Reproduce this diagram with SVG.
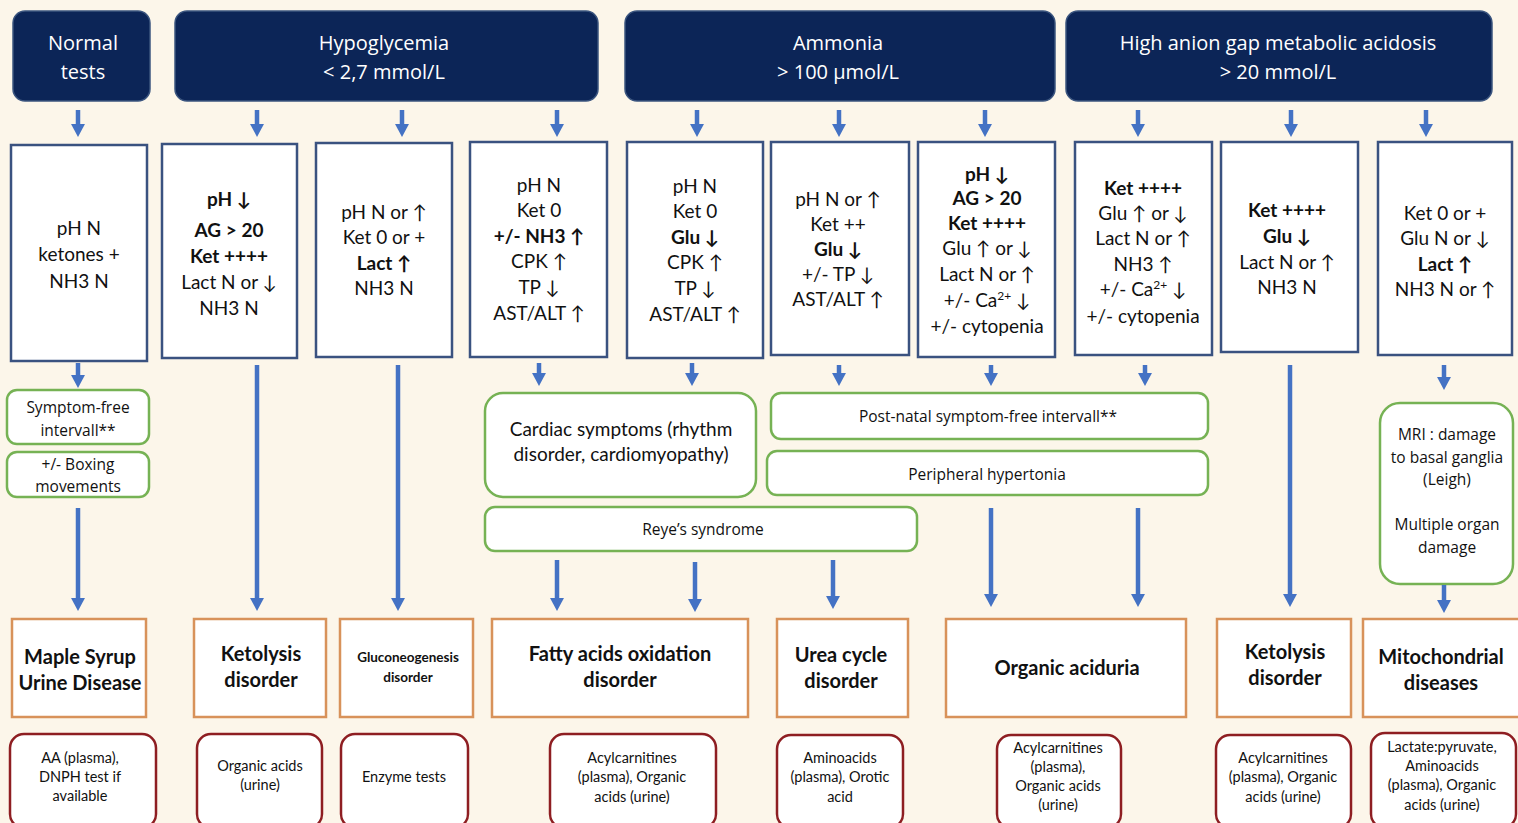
<svg xmlns="http://www.w3.org/2000/svg" width="1518" height="823" viewBox="0 0 1518 823">
<defs>
<style>
.bg{fill:#FCF6EA}
.hdr rect{fill:#0C2557;stroke:#3B557F;stroke-width:1.5}
.hdr text{fill:#FFFFFF;font-family:"Open Sans","DejaVu Sans",sans-serif;font-size:20px;text-anchor:middle}
.lab rect{fill:#FFFFFF;stroke:#3A5280;stroke-width:2.5}
.lab text{fill:#111111;font-family:Lato,"Liberation Sans","DejaVu Sans",sans-serif;font-size:19px;text-anchor:middle}
.b{font-weight:bold}
.sym rect{fill:#FFFFFF;stroke:#76B254;stroke-width:2.5}
.sym text{fill:#111111;font-family:"Open Sans","DejaVu Sans",sans-serif;font-size:15.5px;text-anchor:middle}
.dis rect{fill:#FFFFFF;stroke:#D8925A;stroke-width:2.5}
.dis text{fill:#111111;font-family:Lato,"Liberation Sans",sans-serif;font-size:20px;font-weight:bold;text-anchor:middle}
.tst rect{fill:#FFFFFF;stroke:#8E1E22;stroke-width:2.5}
.tst text{fill:#111111;font-family:Lato,"Liberation Sans",sans-serif;font-size:14.5px;text-anchor:middle}
.conn path{stroke:#4472C4;fill:none;stroke-width:4.5;marker-end:url(#ah)}
.sup{font-size:12px}
</style>
<marker id="ah" markerUnits="userSpaceOnUse" viewBox="0 0 12 12" markerWidth="13" markerHeight="14" refX="1" refY="6" orient="auto" preserveAspectRatio="none">
<path d="M0,0 L12,6 L0,12 z" fill="#4472C4"/>
</marker>
</defs>
<rect class="bg" x="0" y="0" width="1518" height="823"/>

<!-- Headers -->
<g id="h-normal" class="hdr"><rect x="13" y="11" width="137" height="90" rx="12"/><text x="83" y="50">Normal</text><text x="83" y="79">tests</text></g>
<g id="h-hypo" class="hdr"><rect x="175" y="11" width="423" height="90" rx="12"/><text x="384" y="50">Hypoglycemia</text><text x="384" y="79">&lt; 2,7 mmol/L</text></g>
<g id="h-ammonia" class="hdr"><rect x="625" y="11" width="430" height="90" rx="12"/><text x="838" y="50">Ammonia</text><text x="838" y="79">&gt; 100 µmol/L</text></g>
<g id="h-agap" class="hdr"><rect x="1066" y="11" width="426" height="90" rx="12"/><text x="1278" y="50">High anion gap metabolic acidosis</text><text x="1278" y="79">&gt; 20 mmol/L</text></g>

<!-- Lab profile boxes -->
<g id="p1" class="lab"><rect x="11" y="145" width="136" height="216"/>
<text x="79" y="235" fill="#333">pH N</text><text x="79" y="261">ketones +</text><text x="79" y="288" fill="#333">NH3 N</text></g>
<g id="p2" class="lab"><rect x="162" y="144" width="135" height="214"/>
<text x="229" y="206" class="b">pH ↓</text><text x="229" y="237" class="b">AG &gt; 20</text><text x="229" y="263" class="b">Ket ++++</text><text x="229" y="289">Lact N or ↓</text><text x="229" y="315">NH3 N</text></g>
<g id="p3" class="lab"><rect x="316" y="143" width="136" height="214"/>
<text x="384" y="219">pH N or ↑</text><text x="384" y="244">Ket 0 or +</text><text x="384" y="270" class="b">Lact ↑</text><text x="384" y="295">NH3 N</text></g>
<g id="p4" class="lab"><rect x="470" y="142" width="137" height="215"/>
<text x="539" y="192">pH N</text><text x="539" y="217">Ket 0</text><text x="539" y="243" class="b">+/- NH3 ↑</text><text x="539" y="268">CPK ↑</text><text x="539" y="294">TP ↓</text><text x="539" y="320">AST/ALT ↑</text></g>
<g id="p5" class="lab"><rect x="627" y="142" width="136" height="216"/>
<text x="695" y="193">pH N</text><text x="695" y="218">Ket 0</text><text x="695" y="244" class="b">Glu ↓</text><text x="695" y="269">CPK ↑</text><text x="695" y="295">TP ↓</text><text x="695" y="321">AST/ALT ↑</text></g>
<g id="p6" class="lab"><rect x="771" y="142" width="138" height="213"/>
<text x="838" y="206">pH N or ↑</text><text x="838" y="231">Ket ++</text><text x="838" y="256" class="b">Glu ↓</text><text x="838" y="281">+/- TP ↓</text><text x="838" y="306">AST/ALT ↑</text></g>
<g id="p7" class="lab"><rect x="918" y="142" width="137" height="215"/>
<text x="987" y="181" class="b">pH ↓</text><text x="987" y="205" class="b">AG &gt; 20</text><text x="987" y="230" class="b">Ket ++++</text><text x="987" y="255">Glu ↑ or ↓</text><text x="987" y="281">Lact N or ↑</text><text x="987" y="307">+/- Ca<tspan class="sup" dy="-7">2+</tspan><tspan dy="7"> ↓</tspan></text><text x="987" y="333">+/- cytopenia</text></g>
<g id="p8" class="lab"><rect x="1075" y="142" width="137" height="213"/>
<text x="1143" y="195" class="b">Ket ++++</text><text x="1143" y="220">Glu ↑ or ↓</text><text x="1143" y="245">Lact N or ↑</text><text x="1143" y="271">NH3 ↑</text><text x="1143" y="296">+/- Ca<tspan class="sup" dy="-7">2+</tspan><tspan dy="7"> ↓</tspan></text><text x="1143" y="323">+/- cytopenia</text></g>
<g id="p9" class="lab"><rect x="1221" y="142" width="137" height="210"/>
<text x="1287" y="217" class="b">Ket ++++</text><text x="1287" y="243" class="b">Glu ↓</text><text x="1287" y="269">Lact N or ↑</text><text x="1287" y="294">NH3 N</text></g>
<g id="p10" class="lab"><rect x="1378" y="142" width="134" height="213"/>
<text x="1445" y="220">Ket 0 or +</text><text x="1445" y="245">Glu N or ↓</text><text x="1445" y="271" class="b">Lact ↑</text><text x="1445" y="296">NH3 N or ↑</text></g>

<!-- Symptom boxes -->
<g id="s-free" class="sym"><rect x="7" y="390" width="142" height="54" rx="10"/><text x="78" y="413">Symptom-free</text><text x="78" y="436">intervall**</text></g>
<g id="s-boxing" class="sym"><rect x="7" y="452" width="142" height="45" rx="10"/><text x="78" y="470">+/- Boxing</text><text x="78" y="492">movements</text></g>
<g id="s-cardiac" class="sym"><rect x="485" y="393" width="271" height="104" rx="18"/><text x="621" y="436" style="font-family:Lato,'Liberation Sans',sans-serif;font-size:19px">Cardiac symptoms (rhythm</text><text x="621" y="461" style="font-family:Lato,'Liberation Sans',sans-serif;font-size:19px">disorder, cardiomyopathy)</text></g>
<g id="s-postnatal" class="sym"><rect x="771" y="393" width="437" height="46" rx="10"/><text x="988" y="422">Post-natal symptom-free intervall**</text></g>
<g id="s-hypertonia" class="sym"><rect x="767" y="451" width="441" height="44" rx="10"/><text x="987" y="480">Peripheral hypertonia</text></g>
<g id="s-reye" class="sym"><rect x="485" y="507" width="432" height="44" rx="10"/><text x="703" y="535">Reye’s syndrome</text></g>
<g id="s-mri" class="sym"><rect x="1380" y="403" width="133" height="181" rx="20"/><text x="1447" y="440">MRI : damage</text><text x="1447" y="463">to basal ganglia</text><text x="1447" y="485">(Leigh)</text><text x="1447" y="530">Multiple organ</text><text x="1447" y="553">damage</text></g>

<!-- Disease boxes -->
<g id="d-msud" class="dis"><rect x="12" y="619" width="134" height="98"/><text x="80" y="664">Maple Syrup</text><text x="80" y="690">Urine Disease</text></g>
<g id="d-keto1" class="dis"><rect x="194" y="619" width="132" height="98"/><text x="261" y="661">Ketolysis</text><text x="261" y="687">disorder</text></g>
<g id="d-gluco" class="dis"><rect x="340" y="619" width="133" height="98"/><text x="408" y="662" style="font-size:13.5px">Gluconeogenesis</text><text x="408" y="682" style="font-size:13.5px">disorder</text></g>
<g id="d-fao" class="dis"><rect x="492" y="619" width="256" height="98"/><text x="620" y="661">Fatty acids oxidation</text><text x="620" y="687">disorder</text></g>
<g id="d-urea" class="dis"><rect x="777" y="619" width="131" height="98"/><text x="841" y="662">Urea cycle</text><text x="841" y="688">disorder</text></g>
<g id="d-oa" class="dis"><rect x="946" y="619" width="240" height="98"/><text x="1067" y="675">Organic aciduria</text></g>
<g id="d-keto2" class="dis"><rect x="1217" y="619" width="134" height="98"/><text x="1285" y="659">Ketolysis</text><text x="1285" y="685">disorder</text></g>
<g id="d-mito" class="dis"><rect x="1363" y="619" width="160" height="98"/><text x="1441" y="664">Mitochondrial</text><text x="1441" y="690">diseases</text></g>

<!-- Test boxes -->
<g id="t-msud" class="tst"><rect x="10" y="734" width="146" height="94" rx="14"/><text x="80" y="763">AA (plasma),</text><text x="80" y="782">DNPH test if</text><text x="80" y="801">available</text></g>
<g id="t-keto1" class="tst"><rect x="197" y="734" width="125" height="94" rx="14"/><text x="260" y="771">Organic acids</text><text x="260" y="790">(urine)</text></g>
<g id="t-gluco" class="tst"><rect x="341" y="734" width="127" height="94" rx="14"/><text x="404" y="782">Enzyme tests</text></g>
<g id="t-fao" class="tst"><rect x="550" y="734" width="166" height="94" rx="14"/><text x="632" y="763">Acylcarnitines</text><text x="632" y="782">(plasma), Organic</text><text x="632" y="802">acids (urine)</text></g>
<g id="t-urea" class="tst"><rect x="777" y="735" width="126" height="93" rx="14"/><text x="840" y="763">Aminoacids</text><text x="840" y="782">(plasma), Orotic</text><text x="840" y="802">acid</text></g>
<g id="t-oa" class="tst"><rect x="997" y="735" width="124" height="93" rx="14"/><text x="1058" y="753">Acylcarnitines</text><text x="1058" y="772">(plasma),</text><text x="1058" y="791">Organic acids</text><text x="1058" y="810">(urine)</text></g>
<g id="t-keto2" class="tst"><rect x="1216" y="735" width="135" height="93" rx="14"/><text x="1283" y="763">Acylcarnitines</text><text x="1283" y="782">(plasma), Organic</text><text x="1283" y="802">acids (urine)</text></g>
<g id="t-mito" class="tst"><rect x="1371" y="733" width="145" height="95" rx="14"/><text x="1442" y="752">Lactate:pyruvate,</text><text x="1442" y="771">Aminoacids</text><text x="1442" y="790">(plasma), Organic</text><text x="1442" y="810">acids (urine)</text></g>

<!-- Connectors -->
<g id="connectors" class="conn">
<path d="M78,110 V125"/><path d="M257,110 V125"/><path d="M402,110 V125"/><path d="M557,110 V125"/><path d="M697,110 V125"/>
<path d="M839,110 V125"/><path d="M985,110 V125"/><path d="M1138,110 V125"/><path d="M1291,110 V125"/><path d="M1426,110 V125"/>
<path d="M78,363 V376"/>
<path d="M257,365 V599"/>
<path d="M398,365 V599"/>
<path d="M539,363 V374"/>
<path d="M692,363 V374"/>
<path d="M839,365 V374"/>
<path d="M991,365 V374"/>
<path d="M1145,365 V374"/>
<path d="M1290,365 V595"/>
<path d="M1444,365 V378"/>
<path d="M78,508 V599"/>
<path d="M557,560 V599"/>
<path d="M695,562 V600"/>
<path d="M833,560 V597"/>
<path d="M991,508 V595"/>
<path d="M1138,508 V595"/>
<path d="M1444,585 V601"/>
</g>
</svg>
